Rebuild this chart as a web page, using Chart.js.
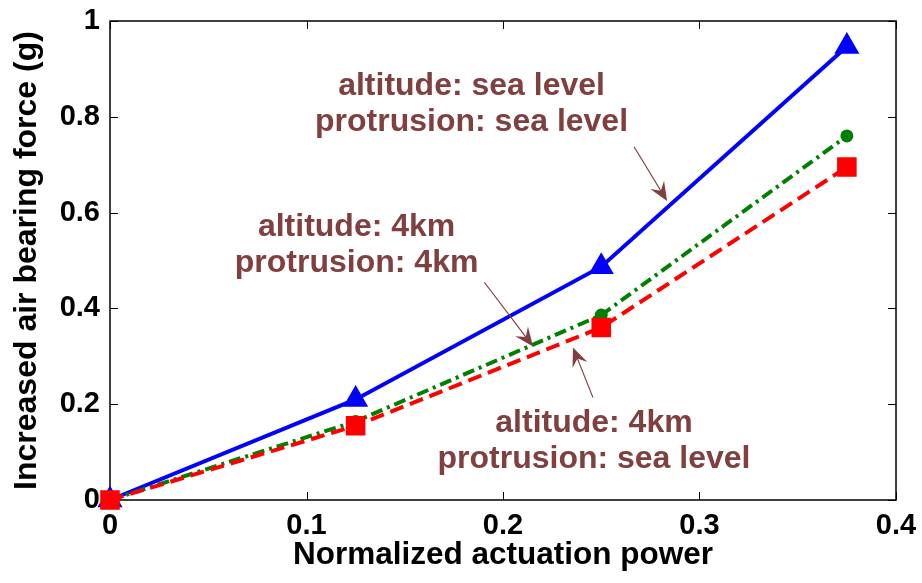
<!DOCTYPE html>
<html>
<head>
<meta charset="utf-8">
<script src="https://cdn.jsdelivr.net/npm/chart.js@4"></script>
<style>
  html, body { margin: 0; padding: 0; background: #fff; }
  #wrap { width: 922px; height: 583px; }
</style>
</head>
<body>
<div id="wrap"><canvas id="myChart" width="922" height="583"></canvas></div>
<script>
// normalized actuation power (x)
const power = [0, 0.125, 0.25, 0.375];
// increased air bearing force (g)
const seaSea = [0, 0.21, 0.487, 0.947];
const km4km4 = [0, 0.164, 0.386, 0.76];
const km4Sea = [0, 0.155, 0.36, 0.695];

const xTicks = [0, 0.1, 0.2, 0.3, 0.4];
const yTicks = [0, 0.2, 0.4, 0.6, 0.8, 1];

// annotation text (line 1, line 2, anchor x, baseline y of line 1)
const notes = [
  { lines: ['altitude: sea level', 'protrusion: sea level'], x: 0.184, y: 0.845, from: [0.2667, 0.7375], to: [0.2835, 0.624] },
  { lines: ['altitude: 4km', 'protrusion: 4km'], x: 0.1255, y: 0.551, from: [0.1905, 0.4546], to: [0.2153, 0.3206] },
  { lines: ['altitude: 4km', 'protrusion: sea level'], x: 0.2463, y: 0.1425, from: [0.2458, 0.2137], to: [0.2356, 0.3185] }
];

const noteColor = '#804040';
const font = 'Liberation Sans, Arial, Helvetica, sans-serif';

function pts(ys) {
  return ys.map((v, i) => ({ x: power[i], y: v }));
}

// frame + inward tick marks like the matlab box
const boxPlugin = {
  id: 'box',
  beforeDatasetsDraw(chart) {
    const { ctx, chartArea: a, scales } = chart;
    ctx.save();
    ctx.strokeStyle = '#000';
    ctx.lineWidth = 1;
    const tl = 8;
    ctx.beginPath();
    xTicks.forEach(t => {
      const px = Math.round(scales.x.getPixelForValue(t)) + 0.5;
      ctx.moveTo(px, a.bottom); ctx.lineTo(px, a.bottom - tl);
      ctx.moveTo(px, a.top); ctx.lineTo(px, a.top + tl);
    });
    yTicks.forEach(t => {
      const py = Math.round(scales.y.getPixelForValue(t)) + 0.5;
      ctx.moveTo(a.left, py); ctx.lineTo(a.left + tl, py);
      ctx.moveTo(a.right, py); ctx.lineTo(a.right - tl, py);
    });
    ctx.stroke();
    ctx.lineWidth = 1.5;
    ctx.strokeRect(a.left, a.top, a.right - a.left, a.bottom - a.top);
    ctx.restore();
  }
};

const notePlugin = {
  id: 'notes',
  afterDatasetsDraw(chart) {
    const { ctx, scales } = chart;
    ctx.save();
    ctx.fillStyle = noteColor;
    ctx.strokeStyle = noteColor;
    ctx.font = 'bold 32px ' + font;
    ctx.textAlign = 'center';
    ctx.textBaseline = 'alphabetic';
    notes.forEach(n => {
      const x = scales.x.getPixelForValue(n.x);
      const y = scales.y.getPixelForValue(n.y);
      n.lines.forEach((s, i) => ctx.fillText(s, x, y + i * 36));

      const x1 = scales.x.getPixelForValue(n.from[0]);
      const y1 = scales.y.getPixelForValue(n.from[1]);
      const x2 = scales.x.getPixelForValue(n.to[0]);
      const y2 = scales.y.getPixelForValue(n.to[1]);
      const ang = Math.atan2(y2 - y1, x2 - x1);
      ctx.lineWidth = 1.2;
      ctx.beginPath();
      ctx.moveTo(x1, y1);
      ctx.lineTo(x2 - 8 * Math.cos(ang), y2 - 8 * Math.sin(ang));
      ctx.stroke();
      // vback arrow head
      ctx.save();
      ctx.translate(x2, y2);
      ctx.rotate(ang);
      ctx.beginPath();
      ctx.moveTo(0, 0);
      ctx.lineTo(-19, -8);
      ctx.lineTo(-12, 0);
      ctx.lineTo(-19, 8);
      ctx.closePath();
      ctx.fill();
      ctx.restore();
    });
    ctx.restore();
  }
};

const ctx = document.getElementById('myChart');

new Chart(ctx, {
  type: 'line',
  data: {
    datasets: [
      {
        data: pts(seaSea),
        borderColor: '#0000ff',
        backgroundColor: '#0000ff',
        borderWidth: 4,
        pointStyle: 'triangle',
        pointRadius: 10.5,
        order: 3
      },
      {
        data: pts(km4km4),
        borderColor: '#008000',
        backgroundColor: '#008000',
        borderWidth: 4,
        borderDash: [12, 5, 3, 5],
        pointStyle: 'circle',
        pointRadius: 4.5,
        order: 2
      },
      {
        data: pts(km4Sea),
        borderColor: '#ff0000',
        backgroundColor: '#ff0000',
        borderWidth: 4,
        borderDash: [14, 7],
        pointStyle: 'rect',
        pointRadius: 11,
        order: 1
      }
    ]
  },
  options: {
    responsive: false,
    animation: false,
    clip: false,
    layout: { padding: { top: 21, right: 26, left: 0, bottom: 0 } },
    elements: {
      line: { tension: 0, fill: false },
      point: { borderWidth: 0, hoverRadius: 0 }
    },
    plugins: {
      legend: { display: false },
      tooltip: { enabled: false }
    },
    scales: {
      x: {
        type: 'linear',
        min: 0,
        max: 0.4,
        afterFit(s) { s.height = 83; s.paddingLeft = 0; s.paddingRight = 0; },
        afterBuildTicks(s) { s.ticks = xTicks.map(v => ({ value: v })); },
        grid: { display: false, drawTicks: false },
        border: { display: false },
        ticks: {
          padding: 9,
          color: '#000',
          maxRotation: 0,
          font: { family: font, size: 29, weight: 'bold' },
          callback: v => String(v)
        },
        title: {
          display: true,
          text: 'Normalized actuation power',
          color: '#000',
          padding: { top: 0, bottom: 9 },
          font: { family: font, size: 31.5, weight: 'bold' }
        }
      },
      y: {
        type: 'linear',
        min: 0,
        max: 1,
        afterFit(s) { s.width = 110; s.paddingTop = 0; s.paddingBottom = 0; },
        afterBuildTicks(s) { s.ticks = yTicks.map(v => ({ value: v })); },
        grid: { display: false, drawTicks: false },
        border: { display: false },
        ticks: {
          padding: 10,
          color: '#000',
          font: { family: font, size: 29, weight: 'bold' },
          callback: v => String(v)
        },
        title: {
          display: true,
          text: 'Increased air bearing force (g)',
          color: '#000',
          padding: { top: 8, bottom: 0 },
          font: { family: font, size: 32, weight: 'bold' }
        }
      }
    }
  },
  plugins: [boxPlugin, notePlugin]
});
</script>
</body>
</html>
